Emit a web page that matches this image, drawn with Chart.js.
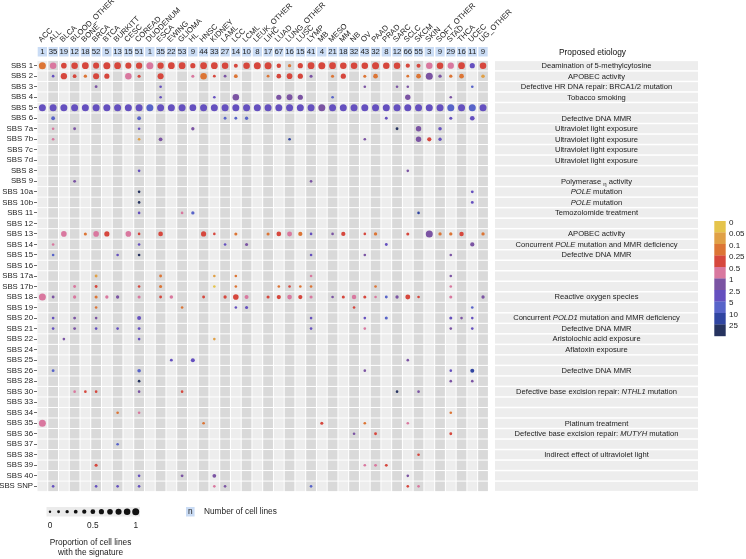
<!DOCTYPE html>
<html>
<head>
<meta charset="utf-8">
<script src="https://cdn.jsdelivr.net/npm/chart.js@4/dist/chart.umd.min.js"></script>
<style>
  body { margin: 0; background: #fff; }
</style>
</head>
<body>
<canvas id="sigChart" width="746" height="559"></canvas>
<script>
const cancerTypes = ['ACC', 'ALL', 'BLCA', 'BLOOD_OTHER', 'BONE', 'BRCA', 'BTCA', 'BURKITT', 'CESC', 'COREAD',
  'DUODENUM', 'ESCA', 'EWING', 'GLIOMA', 'HL', 'HNSC', 'KIDNEY', 'LAML', 'LCC', 'LCML', 'LEUK_OTHER', 'LIHC',
  'LUAD', 'LUNG_OTHER', 'LUSC', 'LYMP', 'MB', 'MESO', 'MM', 'NB', 'OV', 'PAAD', 'PRAD', 'SARC', 'SCLC', 'SKCM',
  'SKIN', 'SOFT_OTHER', 'STAD', 'THCA', 'UCEC', 'UG_OTHER'];
const cellLineCounts = [1, 35, 19, 12, 18, 52, 5, 13, 15, 51, 1, 35, 22, 53, 9, 44, 33, 27, 14, 10, 8, 17,
  67, 16, 15, 41, 4, 21, 18, 32, 43, 32, 8, 12, 66, 55, 3, 9, 29, 16, 11, 9];

const signatures = ['SBS 1', 'SBS 2', 'SBS 3', 'SBS 4', 'SBS 5', 'SBS 6', 'SBS 7a', 'SBS 7b', 'SBS 7c', 'SBS 7d',
  'SBS 8', 'SBS 9', 'SBS 10a', 'SBS 10b', 'SBS 11', 'SBS 12', 'SBS 13', 'SBS 14', 'SBS 15', 'SBS 16', 'SBS 17a',
  'SBS 17b', 'SBS 18', 'SBS 19', 'SBS 20', 'SBS 21', 'SBS 22', 'SBS 24', 'SBS 25', 'SBS 26', 'SBS 28', 'SBS 30',
  'SBS 33', 'SBS 34', 'SBS 35', 'SBS 36', 'SBS 37', 'SBS 38', 'SBS 39', 'SBS 40', 'SBS SNP'];

// *..* = italic, ~..~ = subscript
const etiologies = ['Deamination of 5-methylcytosine', 'APOBEC activity', 'Defective HR DNA repair: BRCA1/2 mutation',
  'Tobacco smoking', '', 'Defective DNA MMR', 'Ultraviolet light exposure', 'Ultraviolet light exposure',
  'Ultraviolet light exposure', 'Ultraviolet light exposure', '', 'Polymerase ~η~ activity', '*POLE* mutation',
  '*POLE* mutation', 'Temozolomide treatment', '', 'APOBEC activity', 'Concurrent *POLE* mutation and MMR deficiency',
  'Defective DNA MMR', '', '', '', 'Reactive oxygen species', '', 'Concurrent *POLD1* mutation and MMR deficiency',
  'Defective DNA MMR', 'Aristolochic acid exposure', 'Aflatoxin exposure', '', 'Defective DNA MMR', '',
  'Defective base excision repair: *NTHL1* mutation', '', '', 'Platinum treatment',
  'Defective base excision repair: *MUTYH* mutation', '', 'Indirect effect of ultraviolet light', '', '', ''];

// colour scale: lower bounds of each bin and its colour
const colorBreaks = [0, 0.05, 0.1, 0.25, 0.5, 1, 2.5, 5, 10, 25];
const binColors = ['#e5c44c', '#e0a046', '#dc7535', '#d6473d', '#d9789f', '#7b54a3', '#6550bf', '#5864c9', '#3045a1', '#26335f'];
const sizeLegendValues = [0, 0.1, 0.2, 0.3, 0.4, 0.5, 0.6, 0.7, 0.8, 0.9, 1];
const sizeLegendLabels = [[0, '0'], [0.5, '0.5'], [1, '1']];

// [signature, cancer type, proportion of cell lines, median value]
const dots = [
  ['SBS 1','ACC',1,0.15],['SBS 1','ALL',0.9,0.7],['SBS 1','BLCA',0.7,0.35],['SBS 1','BLOOD_OTHER',0.9,0.35],
  ['SBS 1','BONE',0.95,0.35],['SBS 1','BRCA',0.8,0.35],['SBS 1','BTCA',1,0.35],['SBS 1','BURKITT',0.95,0.35],
  ['SBS 1','CESC',0.8,0.35],['SBS 1','COREAD',0.85,0.35],['SBS 1','DUODENUM',1,0.7],['SBS 1','ESCA',0.85,0.35],
  ['SBS 1','EWING',0.95,0.35],['SBS 1','GLIOMA',0.95,0.35],['SBS 1','HL',0.6,0.35],['SBS 1','HNSC',0.95,0.35],
  ['SBS 1','KIDNEY',0.95,0.35],['SBS 1','LAML',0.9,0.35],['SBS 1','LCC',0.35,0.35],['SBS 1','LCML',0.9,0.35],
  ['SBS 1','LEUK_OTHER',1,0.35],['SBS 1','LIHC',1,0.35],['SBS 1','LUAD',0.45,0.35],['SBS 1','LUNG_OTHER',0.2,0.15],
  ['SBS 1','LUSC',0.6,0.35],['SBS 1','LYMP',0.95,0.35],['SBS 1','MB',1,0.35],['SBS 1','MESO',0.95,0.35],
  ['SBS 1','MM',0.9,0.35],['SBS 1','NB',0.9,0.35],['SBS 1','OV',0.9,0.35],['SBS 1','PAAD',1,0.35],
  ['SBS 1','PRAD',0.9,0.35],['SBS 1','SARC',0.9,0.35],['SBS 1','SCLC',0.4,0.35],['SBS 1','SKCM',0.35,0.35],
  ['SBS 1','SKIN',0.9,0.7],['SBS 1','SOFT_OTHER',0.9,0.35],['SBS 1','STAD',0.85,0.7],['SBS 1','THCA',0.95,0.35],
  ['SBS 1','UCEC',0.6,3.5],['SBS 1','UG_OTHER',0.9,0.35],

  ['SBS 2','ALL',0.05,3.5],['SBS 2','BLCA',0.85,0.35],['SBS 2','BLOOD_OTHER',0.3,0.35],['SBS 2','BONE',0.2,0.15],
  ['SBS 2','BRCA',0.8,0.35],['SBS 2','BTCA',0.6,0.35],['SBS 2','CESC',0.9,0.7],['SBS 2','COREAD',0.15,0.35],
  ['SBS 2','ESCA',0.8,0.35],['SBS 2','HL',0.15,0.7],['SBS 2','HNSC',0.9,0.15],['SBS 2','KIDNEY',0.1,0.35],
  ['SBS 2','LAML',0.1,1.5],['SBS 2','LCC',0.3,0.15],['SBS 2','LIHC',0.1,0.15],['SBS 2','LUAD',0.5,0.35],
  ['SBS 2','LUNG_OTHER',0.7,0.35],['SBS 2','LUSC',0.6,0.35],['SBS 2','LYMP',0.15,1.5],['SBS 2','MESO',0.15,0.15],
  ['SBS 2','MM',0.6,0.35],['SBS 2','OV',0.15,0.15],['SBS 2','PAAD',0.5,0.15],['SBS 2','SCLC',0.1,0.15],
  ['SBS 2','SKCM',0.5,0.15],['SBS 2','SKIN',1,1.5],['SBS 2','SOFT_OTHER',0.2,1.5],['SBS 2','STAD',0.2,0.15],
  ['SBS 2','THCA',0.5,0.15],['SBS 2','UG_OTHER',0.25,0.07],

  ['SBS 3','BRCA',0.1,1.5],['SBS 3','ESCA',0.05,3.5],['SBS 3','OV',0.05,1.5],['SBS 3','SARC',0.05,1.5],
  ['SBS 3','SCLC',0.05,1.5],['SBS 3','UCEC',0.05,7],

  ['SBS 4','ESCA',0.05,3.5],['SBS 4','KIDNEY',0.05,3.5],['SBS 4','LCC',0.9,1.5],['SBS 4','LUAD',0.6,1.5],
  ['SBS 4','LUNG_OTHER',0.75,1.5],['SBS 4','LUSC',0.6,1.5],['SBS 4','MESO',0.05,7],['SBS 4','SCLC',0.65,1.5],
  ['SBS 4','STAD',0.05,1.5],

  ['SBS 5','ACC',1,3.5],['SBS 5','ALL',1,3.5],['SBS 5','BLCA',1,3.5],['SBS 5','BLOOD_OTHER',1,3.5],
  ['SBS 5','BONE',1,3.5],['SBS 5','BRCA',1,3.5],['SBS 5','BTCA',1,3.5],['SBS 5','BURKITT',1,3.5],
  ['SBS 5','CESC',1,3.5],['SBS 5','COREAD',1,3.5],['SBS 5','DUODENUM',1,7],['SBS 5','ESCA',1,3.5],
  ['SBS 5','EWING',1,3.5],['SBS 5','GLIOMA',1,3.5],['SBS 5','HL',0.95,3.5],['SBS 5','HNSC',1,3.5],
  ['SBS 5','KIDNEY',1,3.5],['SBS 5','LAML',1,3.5],['SBS 5','LCC',1,3.5],['SBS 5','LCML',1,3.5],
  ['SBS 5','LEUK_OTHER',1,3.5],['SBS 5','LIHC',1,3.5],['SBS 5','LUAD',1,3.5],['SBS 5','LUNG_OTHER',1,3.5],
  ['SBS 5','LUSC',1,3.5],['SBS 5','LYMP',1,3.5],['SBS 5','MB',1,1.5],['SBS 5','MESO',1,3.5],
  ['SBS 5','MM',1,3.5],['SBS 5','NB',1,3.5],['SBS 5','OV',1,3.5],['SBS 5','PAAD',1,3.5],
  ['SBS 5','PRAD',1,3.5],['SBS 5','SARC',1,3.5],['SBS 5','SCLC',1,3.5],['SBS 5','SKCM',1,3.5],
  ['SBS 5','SKIN',1,3.5],['SBS 5','SOFT_OTHER',1,3.5],['SBS 5','STAD',1,7],['SBS 5','THCA',1,3.5],
  ['SBS 5','UCEC',1,7],['SBS 5','UG_OTHER',1,3.5],

  ['SBS 6','ALL',0.3,7],['SBS 6','COREAD',0.3,7],['SBS 6','LAML',0.1,7],['SBS 6','LCC',0.1,7],
  ['SBS 6','LCML',0.2,7],['SBS 6','PRAD',0.1,3.5],['SBS 6','STAD',0.15,3.5],['SBS 6','UCEC',0.5,3.5],

  ['SBS 7a','ALL',0.05,0.7],['SBS 7a','BLOOD_OTHER',0.1,1.5],['SBS 7a','COREAD',0.05,3.5],['SBS 7a','HL',0.2,1.5],
  ['SBS 7a','SARC',0.1,30],['SBS 7a','SKCM',0.65,1.5],['SBS 7a','SOFT_OTHER',0.25,3.5],

  ['SBS 7b','ALL',0.05,0.7],['SBS 7b','COREAD',0.05,0.07],['SBS 7b','ESCA',0.3,1.5],['SBS 7b','LUNG_OTHER',0.05,15],
  ['SBS 7b','OV',0.05,1.5],['SBS 7b','SKCM',0.65,1.5],['SBS 7b','SKIN',0.4,0.35],['SBS 7b','SOFT_OTHER',0.2,3.5],

  ['SBS 8','COREAD',0.05,3.5],['SBS 8','SCLC',0.05,1.5],
  ['SBS 9','BLOOD_OTHER',0.1,1.5],['SBS 9','LYMP',0.05,1.5],
  ['SBS 10a','COREAD',0.05,30],['SBS 10a','UCEC',0.1,3.5],
  ['SBS 10b','COREAD',0.05,30],['SBS 10b','UCEC',0.1,3.5],
  ['SBS 11','COREAD',0.05,3.5],['SBS 11','GLIOMA',0.05,0.7],['SBS 11','HL',0.2,7],['SBS 11','SKCM',0.05,15],

  ['SBS 13','BLCA',0.7,0.7],['SBS 13','BONE',0.15,0.15],['SBS 13','BRCA',0.7,0.7],['SBS 13','BTCA',0.6,0.35],
  ['SBS 13','CESC',0.7,0.7],['SBS 13','COREAD',0.05,0.35],['SBS 13','ESCA',0.5,0.35],['SBS 13','HNSC',0.6,0.35],
  ['SBS 13','KIDNEY',0.05,0.35],['SBS 13','LCC',0.15,0.15],['SBS 13','LIHC',0.15,0.15],['SBS 13','LUAD',0.5,0.35],
  ['SBS 13','LUNG_OTHER',0.55,0.7],['SBS 13','LUSC',0.4,0.15],['SBS 13','LYMP',0.05,3.5],['SBS 13','MESO',0.05,1.5],
  ['SBS 13','MM',0.4,0.35],['SBS 13','OV',0.05,0.35],['SBS 13','PAAD',0.2,0.15],['SBS 13','SCLC',0.15,0.35],
  ['SBS 13','SKIN',1,1.5],['SBS 13','SOFT_OTHER',0.2,0.15],['SBS 13','STAD',0.2,0.15],['SBS 13','THCA',0.45,0.35],
  ['SBS 13','UG_OTHER',0.2,0.15],

  ['SBS 14','ALL',0.05,0.7],['SBS 14','COREAD',0.05,3.5],['SBS 14','LAML',0.05,3.5],['SBS 14','LCML',0.15,1.5],
  ['SBS 14','PRAD',0.1,3.5],['SBS 14','UCEC',0.4,1.5],

  ['SBS 15','ALL',0.05,7],['SBS 15','BURKITT',0.05,3.5],['SBS 15','COREAD',0.05,30],['SBS 15','LYMP',0.05,3.5],
  ['SBS 15','OV',0.05,1.5],['SBS 15','STAD',0.05,1.5],

  ['SBS 17a','BRCA',0.1,0.07],['SBS 17a','ESCA',0.1,0.15],['SBS 17a','KIDNEY',0.05,0.07],['SBS 17a','LCC',0.05,0.15],
  ['SBS 17a','LYMP',0.05,0.7],['SBS 17a','STAD',0.05,1.5],

  ['SBS 17b','BLOOD_OTHER',0.1,0.7],['SBS 17b','BRCA',0.1,0.35],['SBS 17b','COREAD',0.05,0.35],['SBS 17b','ESCA',0.15,0.15],
  ['SBS 17b','KIDNEY',0.05,0.03],['SBS 17b','LCC',0.05,0.15],['SBS 17b','LUAD',0.05,0.15],['SBS 17b','LUNG_OTHER',0.05,0.35],
  ['SBS 17b','LUSC',0.05,0.15],['SBS 17b','LYMP',0.05,0.15],['SBS 17b','PAAD',0.05,0.15],['SBS 17b','STAD',0.05,0.7],

  ['SBS 18','ACC',1,0.7],['SBS 18','ALL',0.1,1.5],['SBS 18','BLOOD_OTHER',0.2,0.7],['SBS 18','BRCA',0.15,0.15],
  ['SBS 18','BTCA',0.2,0.7],['SBS 18','BURKITT',0.2,1.5],['SBS 18','COREAD',0.15,0.7],['SBS 18','ESCA',0.1,0.35],
  ['SBS 18','EWING',0.25,0.7],['SBS 18','HNSC',0.1,0.35],['SBS 18','LAML',0.2,0.35],['SBS 18','LCC',0.7,0.35],
  ['SBS 18','LCML',0.35,0.7],['SBS 18','LIHC',0.15,0.35],['SBS 18','LUAD',0.4,0.35],['SBS 18','LUNG_OTHER',0.5,0.7],
  ['SBS 18','LUSC',0.4,0.35],['SBS 18','LYMP',0.15,0.7],['SBS 18','MESO',0.05,1.5],['SBS 18','MM',0.15,0.35],
  ['SBS 18','NB',0.45,0.7],['SBS 18','OV',0.15,0.35],['SBS 18','PAAD',0.05,0.7],['SBS 18','PRAD',0.1,7],
  ['SBS 18','SARC',0.2,1.5],['SBS 18','SCLC',0.55,0.35],['SBS 18','SKCM',0.05,0.35],['SBS 18','STAD',0.15,0.7],
  ['SBS 18','UG_OTHER',0.2,1.5],

  ['SBS 19','BRCA',0.05,0.15],['SBS 19','GLIOMA',0.05,0.15],['SBS 19','LCC',0.05,3.5],['SBS 19','LCML',0.15,3.5],
  ['SBS 19','NB',0.05,0.35],['SBS 19','UCEC',0.05,7],

  ['SBS 20','ALL',0.05,3.5],['SBS 20','BLOOD_OTHER',0.1,1.5],['SBS 20','BRCA',0.05,1.5],['SBS 20','COREAD',0.35,3.5],
  ['SBS 20','LYMP',0.05,3.5],['SBS 20','OV',0.05,3.5],['SBS 20','PRAD',0.15,7],['SBS 20','STAD',0.15,3.5],
  ['SBS 20','THCA',0.05,1.5],['SBS 20','UCEC',0.05,3.5],

  ['SBS 21','ALL',0.05,3.5],['SBS 21','BLOOD_OTHER',0.1,1.5],['SBS 21','BRCA',0.05,3.5],['SBS 21','BURKITT',0.05,3.5],
  ['SBS 21','COREAD',0.1,3.5],['SBS 21','LYMP',0.05,3.5],['SBS 21','OV',0.05,0.7],['SBS 21','STAD',0.05,1.5],
  ['SBS 21','UCEC',0.05,3.5],

  ['SBS 22','BLCA',0.05,1.5],['SBS 22','COREAD',0.05,3.5],['SBS 22','KIDNEY',0.05,0.07],
  ['SBS 25','EWING',0.1,3.5],['SBS 25','HL',0.35,3.5],['SBS 25','SCLC',0.05,1.5],
  ['SBS 26','ALL',0.1,7],['SBS 26','COREAD',0.25,7],['SBS 26','OV',0.05,1.5],['SBS 26','STAD',0.05,3.5],
  ['SBS 26','UCEC',0.35,15],
  ['SBS 28','COREAD',0.05,30],['SBS 28','STAD',0.05,1.5],['SBS 28','UCEC',0.05,1.5],
  ['SBS 30','BLOOD_OTHER',0.05,0.7],['SBS 30','BONE',0.05,0.35],['SBS 30','BRCA',0.05,0.35],['SBS 30','COREAD',0.05,1.5],
  ['SBS 30','GLIOMA',0.05,0.35],['SBS 30','SARC',0.05,30],['SBS 30','SKCM',0.05,1.5],
  ['SBS 34','BURKITT',0.05,0.15],['SBS 34','COREAD',0.05,0.7],['SBS 34','STAD',0.05,0.15],
  ['SBS 35','ACC',1,0.7],['SBS 35','HNSC',0.05,0.15],['SBS 35','MB',0.15,0.35],['SBS 35','OV',0.05,0.15],
  ['SBS 35','SCLC',0.05,0.7],
  ['SBS 36','NB',0.05,1.5],['SBS 36','PAAD',0.1,0.35],['SBS 36','STAD',0.1,0.35],
  ['SBS 37','BURKITT',0.05,7],
  ['SBS 38','SKCM',0.05,0.35],
  ['SBS 39','BRCA',0.15,0.35],['SBS 39','OV',0.05,0.7],['SBS 39','PAAD',0.1,0.7],['SBS 39','PRAD',0.1,0.35],
  ['SBS 40','COREAD',0.05,3.5],['SBS 40','GLIOMA',0.1,1.5],['SBS 40','KIDNEY',0.3,1.5],['SBS 40','SCLC',0.05,1.5],
  ['SBS SNP','ALL',0.05,3.5],['SBS SNP','BRCA',0.05,3.5],['SBS SNP','BURKITT',0.05,3.5],['SBS SNP','COREAD',0.05,3.5],
  ['SBS SNP','KIDNEY',0.05,0.7],['SBS SNP','LAML',0.05,1.5],['SBS SNP','LYMP',0.05,7],['SBS SNP','SCLC',0.05,0.35],
  ['SBS SNP','SKCM',0.05,0.7]
];

const FONT = '"Liberation Sans", Arial, Helvetica, sans-serif';
const countBlue = '#cadcf5';

function colorFor(v) {
  let k = 0;
  colorBreaks.forEach((b, i) => { if (v >= b) k = i; });
  return binColors[k];
}
function radiusFor(p) {
  return 1.2 + 2.3 * p;
}

// draw text with *italic* and ~subscript~ parts, centred on cx
function drawRich(ctx, text, cx, cy, size) {
  const parts = text.split(/(\*[^*]+\*|~[^~]+~)/).filter(s => s.length).map(s => {
    if (s[0] === '*') return { t: s.slice(1, -1), font: `italic ${size}px ${FONT}`, dy: 0 };
    if (s[0] === '~') return { t: s.slice(1, -1), font: `${size * 0.8}px ${FONT}`, dy: 2.5 };
    return { t: s, font: `${size}px ${FONT}`, dy: 0 };
  });
  let total = 0;
  parts.forEach(p => { ctx.font = p.font; p.w = ctx.measureText(p.t).width; total += p.w; });
  let x = cx - total / 2;
  ctx.textAlign = 'left';
  parts.forEach(p => { ctx.font = p.font; ctx.fillText(p.t, x, cy + p.dy); x += p.w; });
}

const tilesPlugin = {
  id: 'tiles',
  beforeDatasetsDraw(chart) {
    const { ctx, scales: { x, y } } = chart;
    const dx = x.getPixelForValue(1) - x.getPixelForValue(0);
    const dy = y.getPixelForValue(1) - y.getPixelForValue(0);
    ctx.save();
    cancerTypes.forEach((c, i) => {
      const cx = x.getPixelForValue(i);
      ctx.fillStyle = i % 2 ? '#d9d9d9' : '#ededed';
      signatures.forEach((s, j) => {
        const cy = y.getPixelForValue(j);
        ctx.fillRect(cx - dx / 2 + 0.5, cy - dy / 2 + 0.5, dx - 1, dy - 1);
      });
    });
    ctx.restore();
  }
};

const extrasPlugin = {
  id: 'extras',
  afterDraw(chart) {
    const { ctx, scales: { x, y } } = chart;
    const dx = x.getPixelForValue(1) - x.getPixelForValue(0);
    const dy = y.getPixelForValue(1) - y.getPixelForValue(0);
    ctx.save();
    ctx.fillStyle = '#222';

    // number of cell lines boxes + rotated cancer labels
    cancerTypes.forEach((c, i) => {
      const cx = x.getPixelForValue(i);
      ctx.fillStyle = countBlue;
      ctx.fillRect(cx - dx / 2 + 0.7, 47, dx - 1.4, 9.5);
      ctx.fillStyle = '#222';
      ctx.font = `7.8px ${FONT}`;
      ctx.textAlign = 'center';
      ctx.textBaseline = 'middle';
      ctx.fillText(String(cellLineCounts[i]), cx, 52);

      ctx.save();
      ctx.translate(cx - 1, 42.5);
      ctx.rotate(-Math.PI / 4);
      ctx.textAlign = 'left';
      ctx.textBaseline = 'alphabetic';
      ctx.font = `7.7px ${FONT}`;
      ctx.fillText(c, 0, 0);
      ctx.restore();
    });

    // proposed etiology panel
    ctx.textBaseline = 'middle';
    ctx.font = `8.4px ${FONT}`;
    ctx.textAlign = 'center';
    ctx.fillStyle = '#111';
    ctx.fillText('Proposed etiology', 592.5, 52.5);
    signatures.forEach((s, j) => {
      const cy = y.getPixelForValue(j);
      ctx.fillStyle = '#ededed';
      ctx.fillRect(495, cy - dy / 2 + 0.75, 203, dy - 1.5);
      if (etiologies[j]) {
        ctx.fillStyle = '#222';
        drawRich(ctx, etiologies[j], 596.5, cy + 0.3, 7.6);
      }
    });

    // colour legend
    const segH = 11.5;
    binColors.forEach((col, k) => {
      ctx.fillStyle = col;
      ctx.fillRect(714.3, 221 + k * segH, 11.4, segH + 0.2);
      ctx.fillStyle = '#222';
      ctx.font = `8px ${FONT}`;
      ctx.textAlign = 'left';
      ctx.fillText(String(colorBreaks[k]), 729, 222.3 + k * segH);
    });

    // size legend
    ctx.fillStyle = '#ebebeb';
    ctx.fillRect(46.5, 507, 93.5, 9.5);
    const sx = v => 50 + v * 85.7;
    sizeLegendValues.forEach(v => {
      ctx.fillStyle = '#111';
      ctx.beginPath();
      ctx.arc(sx(v), 511.7, radiusFor(v), 0, Math.PI * 2);
      ctx.fill();
    });
    ctx.fillStyle = '#222';
    ctx.font = `8.3px ${FONT}`;
    ctx.textAlign = 'center';
    sizeLegendLabels.forEach(([v, t]) => ctx.fillText(t, sx(v), 526));
    ctx.fillText('Proportion of cell lines', 90.5, 543);
    ctx.fillText('with the signature', 90.5, 553);

    // n legend
    ctx.fillStyle = countBlue;
    ctx.fillRect(186, 507, 8.6, 9.5);
    ctx.fillStyle = '#222';
    ctx.fillText('n', 190.3, 511.5);
    ctx.textAlign = 'left';
    ctx.fillText('Number of cell lines', 204, 511.7);
    ctx.restore();
  }
};

new Chart(document.getElementById('sigChart'), {
  type: 'bubble',
  data: {
    datasets: [{
      data: dots.map(d => ({ x: d[1], y: d[0], p: d[2], v: d[3] })),
      backgroundColor: c => colorFor(c.raw.v),
      radius: c => radiusFor(c.raw.p),
      borderWidth: 0,
      hoverRadius: 0
    }]
  },
  options: {
    responsive: false,
    animation: false,
    events: [],
    layout: { padding: { top: 60.4, right: 257.6, bottom: 67.4, left: 0 } },
    scales: {
      x: {
        type: 'category',
        labels: cancerTypes,
        offset: true,
        display: false
      },
      y: {
        type: 'category',
        labels: signatures,
        offset: true,
        afterFit: s => { s.width = 37; },
        grid: { drawOnChartArea: false, drawTicks: true, tickLength: 3, tickColor: '#444', tickWidth: 0.8 },
        border: { display: false },
        ticks: { color: '#222', padding: 1, font: { family: FONT, size: 7.8 }, autoSkip: false }
      }
    },
    plugins: { legend: { display: false }, tooltip: { enabled: false } }
  },
  plugins: [tilesPlugin, extrasPlugin]
});
</script>
</body>
</html>
